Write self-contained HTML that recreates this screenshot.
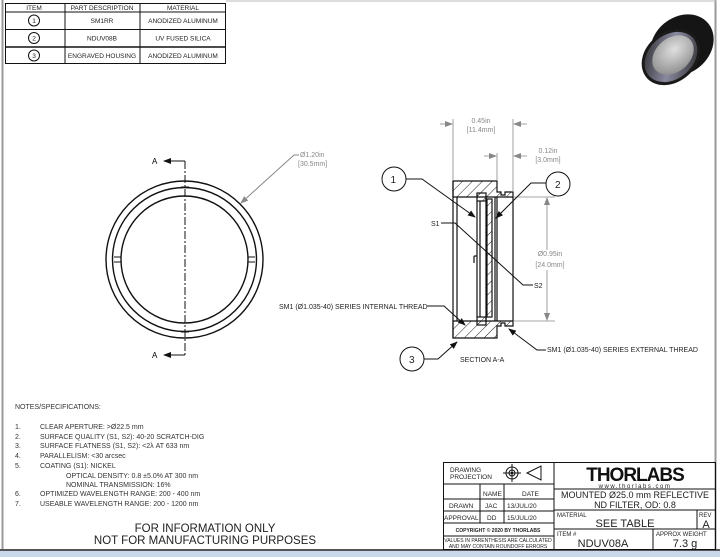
<!DOCTYPE html>
<html><head><meta charset="utf-8"><style>
html,body{margin:0;padding:0;background:#fff;}
svg{display:block;font-family:"Liberation Sans",sans-serif;}
</style></head><body>
<svg width="720" height="557" viewBox="0 0 720 557" xmlns="http://www.w3.org/2000/svg">
<defs>
<pattern id="h" width="7" height="7" patternUnits="userSpaceOnUse" patternTransform="rotate(45)"><line x1="0" y1="0" x2="0" y2="7" stroke="#222" stroke-width="1"/></pattern>
<marker id="ar" markerWidth="8" markerHeight="6" refX="7" refY="3" orient="auto" markerUnits="userSpaceOnUse"><path d="M0,0 L8,3 L0,6z" fill="#111"/></marker>
<marker id="ag" markerWidth="8" markerHeight="6" refX="7" refY="3" orient="auto" markerUnits="userSpaceOnUse"><path d="M0,0 L8,3 L0,6z" fill="#888"/></marker>
<radialGradient id="lens" cx="0.6" cy="0.4" r="0.7"><stop offset="0" stop-color="#e0e0e0"/><stop offset="1" stop-color="#8a8a8a"/></radialGradient>
<linearGradient id="rim" x1="0" y1="0" x2="1" y2="1"><stop offset="0" stop-color="#222"/><stop offset="0.5" stop-color="#8a8aa0"/><stop offset="1" stop-color="#222"/></linearGradient>
</defs>
<rect x="0" y="0" width="720" height="557" fill="#fff"/>
<line x1="2.5" y1="0" x2="2.5" y2="550" stroke="#999" stroke-width="2"/>
<line x1="715.5" y1="0" x2="715.5" y2="550" stroke="#999" stroke-width="2"/>
<line x1="226" y1="1" x2="716" y2="1" stroke="#bbb"/>
<rect x="0" y="549" width="720" height="2" fill="#555"/>
<rect x="0" y="551" width="720" height="6" fill="#c9d8ea"/>

<g stroke="#111" stroke-width="1" fill="none">
<rect x="5.5" y="3.5" width="220" height="60"/>
<line x1="5" y1="12" x2="226" y2="12"/>
<line x1="5" y1="29.5" x2="226" y2="29.5"/>
<line x1="5" y1="47" x2="226" y2="47" stroke-width="1.5"/>
<line x1="65" y1="3" x2="65" y2="64"/>
<line x1="140" y1="3" x2="140" y2="64"/>
<circle cx="34" cy="20.5" r="5.5"/><circle cx="34" cy="38" r="5.5"/><circle cx="34" cy="55.5" r="5.5"/>
</g>
<g font-size="6.5" fill="#222" text-anchor="middle">
<text x="34" y="10">ITEM</text><text x="102" y="10">PART DESCRIPTION</text><text x="183" y="10">MATERIAL</text>
<text x="34" y="23">1</text><text x="34" y="40.5">2</text><text x="34" y="58">3</text>
<text x="102" y="23">SM1RR</text><text x="183" y="23">ANODIZED ALUMINUM</text>
<text x="102" y="40.5">NDUV08B</text><text x="183" y="40.5">UV FUSED SILICA</text>
<text x="102" y="58">ENGRAVED HOUSING</text><text x="183" y="58">ANODIZED ALUMINUM</text>
</g>

<!-- product image -->
<g>
<ellipse cx="682" cy="45" rx="34" ry="28" transform="rotate(-40 682 45)" fill="#151515"/>
<ellipse cx="671" cy="57" rx="32" ry="25" transform="rotate(-40 671 57)" fill="#1a1a1a"/>
<ellipse cx="671" cy="57" rx="29" ry="22" transform="rotate(-40 671 57)" fill="url(#rim)"/>
<ellipse cx="673" cy="55" rx="23" ry="17" transform="rotate(-40 673 55)" fill="url(#lens)"/>
</g>

<g stroke="#111" fill="none" stroke-width="1.4">
<circle cx="184.5" cy="259.5" r="78.5"/>
<circle cx="184.5" cy="259.5" r="72"/>
<circle cx="184.5" cy="259.5" r="63.5"/>
</g>
<g stroke="#111" stroke-width="1">
<line x1="114" y1="257" x2="121" y2="257"/><line x1="114" y1="262" x2="121" y2="262"/>
<line x1="248" y1="257" x2="255" y2="257"/><line x1="248" y1="262" x2="255" y2="262"/>
<line x1="181" y1="187" x2="189" y2="187"/><line x1="181" y1="332" x2="189" y2="332"/>
</g>
<line x1="185" y1="161" x2="185" y2="356" stroke="#111" stroke-width="1" stroke-dasharray="8,2,2,2"/>
<line x1="185" y1="161" x2="164" y2="161" stroke="#111" marker-end="url(#ar)"/>
<line x1="185" y1="355" x2="164" y2="355" stroke="#111" marker-end="url(#ar)"/>
<text x="152" y="164" font-size="8">A</text><text x="152" y="358" font-size="8">A</text>
<polyline points="299,155 294,155 241,203" fill="none" stroke="#888" marker-end="url(#ag)"/>
<text x="300" y="157" font-size="7" fill="#888">Ø1.20in</text>
<text x="298" y="166" font-size="7" fill="#888">[30.5mm]</text>

<g stroke="#111" stroke-width="1.2">
<path d="M453,181 H497 V192 H501 V195 H505 V192 H513 V197 H453 Z" fill="url(#h)"/>
<path d="M453,338 H497 V326 H501 V323 H505 V326 H513 V321 H453 Z" fill="url(#h)"/>
<line x1="453" y1="181" x2="453" y2="338"/>
<line x1="497" y1="197" x2="497" y2="321"/>
<line x1="513" y1="197" x2="513" y2="321"/>
<line x1="457" y1="197" x2="457" y2="321"/>
<rect x="477" y="193" width="9" height="8" fill="url(#h)"/>
<rect x="477" y="317" width="9" height="8" fill="url(#h)"/>
<line x1="477" y1="201" x2="477" y2="317"/>
<line x1="480" y1="201" x2="480" y2="317"/>
<line x1="486" y1="196" x2="486" y2="322"/>
<rect x="487" y="199" width="5" height="118" fill="url(#h)"/>
<line x1="495" y1="197" x2="495" y2="321"/>
<line x1="477" y1="256" x2="474" y2="256"/><line x1="474" y1="256" x2="474" y2="263"/>
</g>
<g stroke="#888" stroke-width="0.8" fill="none">
<line x1="453" y1="119" x2="453" y2="180"/><line x1="513" y1="119" x2="513" y2="191"/>
<line x1="440" y1="124" x2="452" y2="124" marker-end="url(#ag)"/>
<line x1="527" y1="124" x2="514" y2="124" marker-end="url(#ag)"/>
<line x1="497" y1="153" x2="497" y2="180"/>
<line x1="484" y1="156" x2="496" y2="156" marker-end="url(#ag)"/>
<line x1="527" y1="156" x2="514" y2="156" marker-end="url(#ag)"/>
<line x1="514" y1="197" x2="555" y2="197"/><line x1="514" y1="321" x2="555" y2="321"/>
<line x1="547" y1="250" x2="547" y2="198" marker-end="url(#ag)"/>
<line x1="547" y1="270" x2="547" y2="320" marker-end="url(#ag)"/>
</g>
<g font-size="7" fill="#888" text-anchor="middle">
<text x="481" y="123">0.45in</text><text x="481" y="132">[11.4mm]</text>
<text x="548" y="153">0.12in</text><text x="548" y="162">[3.0mm]</text>
<text x="550" y="256">Ø0.95in</text><text x="550" y="267">[24.0mm]</text>
</g>
<g stroke="#111" stroke-width="1" fill="none">
<circle cx="394" cy="179" r="12"/><circle cx="558" cy="184" r="12"/><circle cx="412" cy="359" r="12"/>
<polyline points="406,179 422,179 475,217" marker-end="url(#ar)"/>
<polyline points="546,183 531,183 496,218" marker-end="url(#ar)"/>
<polyline points="424,359 438,359 457,342" marker-end="url(#ar)"/>
<polyline points="441,223 455,223 523,285 533,285"/>
<polyline points="427,306 444,306 465,325" marker-end="url(#ar)"/>
<polyline points="546,350 537,350 509,329" marker-end="url(#ar)"/>
</g>
<g font-size="7" fill="#222">
<text x="390.5" y="183" font-size="10">1</text><text x="555" y="188" font-size="10">2</text><text x="409" y="363" font-size="10">3</text>
<text x="431" y="226">S1</text><text x="534" y="288">S2</text>
<text x="279" y="309">SM1 (Ø1.035-40) SERIES INTERNAL THREAD</text>
<text x="547" y="352">SM1 (Ø1.035-40) SERIES EXTERNAL THREAD</text>
<text x="460" y="362">SECTION A-A</text>
</g>

<g font-size="7" fill="#333">
<text x="15" y="409">NOTES/SPECIFICATIONS:</text>
<text x="15" y="429">1.</text><text x="40" y="429">CLEAR APERTURE: &gt;Ø22.5 mm</text>
<text x="15" y="439">2.</text><text x="40" y="439">SURFACE QUALITY (S1, S2): 40-20 SCRATCH-DIG</text>
<text x="15" y="448">3.</text><text x="40" y="448">SURFACE FLATNESS (S1, S2): &lt;2λ AT 633 nm</text>
<text x="15" y="458">4.</text><text x="40" y="458">PARALLELISM: &lt;30 arcsec</text>
<text x="15" y="468">5.</text><text x="40" y="468">COATING (S1): NICKEL</text>
<text x="66" y="478">OPTICAL DENSITY: 0.8 ±5.0% AT 300 nm</text>
<text x="66" y="487">NOMINAL TRANSMISSION: 16%</text>
<text x="15" y="496">6.</text><text x="40" y="496">OPTIMIZED WAVELENGTH RANGE: 200 - 400 nm</text>
<text x="15" y="506">7.</text><text x="40" y="506">USEABLE WAVELENGTH RANGE: 200 - 1200 nm</text>
</g>
<g font-size="11.5" fill="#222" text-anchor="middle">
<text x="205" y="532">FOR INFORMATION ONLY</text>
<text x="205" y="544">NOT FOR MANUFACTURING PURPOSES</text>
</g>

<g stroke="#111" stroke-width="1" fill="none">
<rect x="443.5" y="462.5" width="272" height="87"/>
<line x1="554" y1="462" x2="554" y2="550"/>
<line x1="443" y1="484" x2="554" y2="484"/>
<line x1="443" y1="499" x2="554" y2="499"/>
<line x1="443" y1="511" x2="554" y2="511"/>
<line x1="443" y1="523" x2="554" y2="523"/>
<line x1="443" y1="536" x2="554" y2="536"/>
<line x1="480" y1="484" x2="480" y2="523"/>
<line x1="504" y1="484" x2="504" y2="523"/>
<line x1="554" y1="489" x2="716" y2="489"/>
<line x1="554" y1="510" x2="716" y2="510"/>
<line x1="554" y1="529" x2="716" y2="529"/>
<line x1="697" y1="510" x2="697" y2="529"/>
<line x1="653" y1="529" x2="653" y2="550"/>
<circle cx="512" cy="473" r="6"/><circle cx="512" cy="473" r="3"/>
<line x1="503" y1="473" x2="521" y2="473"/><line x1="512" y1="464" x2="512" y2="482"/>
<path d="M527,473 L541,466 V480 Z"/>
</g>
<circle cx="512" cy="473" r="1.3" fill="#111"/>
<g font-size="6.5" fill="#222">
<text x="450" y="472">DRAWING</text><text x="450" y="479">PROJECTION</text>
<text x="483" y="496">NAME</text><text x="522" y="496">DATE</text>
<text x="449" y="508">DRAWN</text><text x="485" y="508">JAC</text><text x="507" y="508">13/JUL/20</text>
<text x="444" y="520">APPROVAL</text><text x="487" y="520">DD</text><text x="507" y="520">15/JUL/20</text>
<text x="498" y="532" font-size="5" text-anchor="middle" font-weight="bold">COPYRIGHT © 2020 BY THORLABS</text>
<text x="498" y="542" font-size="5" text-anchor="middle">VALUES IN PARENTHESIS ARE CALCULATED</text>
<text x="498" y="548" font-size="5" text-anchor="middle">AND MAY CONTAIN ROUNDOFF ERRORS</text>
<text x="557" y="517" font-size="6">MATERIAL</text>
<text x="699" y="517" font-size="6">REV</text>
<text x="557" y="536" font-size="6">ITEM #</text>
<text x="656" y="536" font-size="6">APPROX WEIGHT</text>
</g>
<text x="635" y="481" font-size="19" font-weight="bold" text-anchor="middle" fill="#111" letter-spacing="-1">THORLABS</text>
<text x="635" y="488" font-size="6" text-anchor="middle" fill="#222" letter-spacing="1.5">www.thorlabs.com</text>
<g fill="#222" text-anchor="middle">
<text x="635" y="498" font-size="9">MOUNTED Ø25.0 mm REFLECTIVE</text>
<text x="635" y="508" font-size="9">ND FILTER, OD: 0.8</text>
<text x="625" y="527" font-size="11">SEE TABLE</text>
<text x="706" y="528" font-size="11">A</text>
<text x="603" y="547" font-size="11">NDUV08A</text>
<text x="685" y="547" font-size="11">7.3 g</text>
</g>
</svg>
</body></html>
